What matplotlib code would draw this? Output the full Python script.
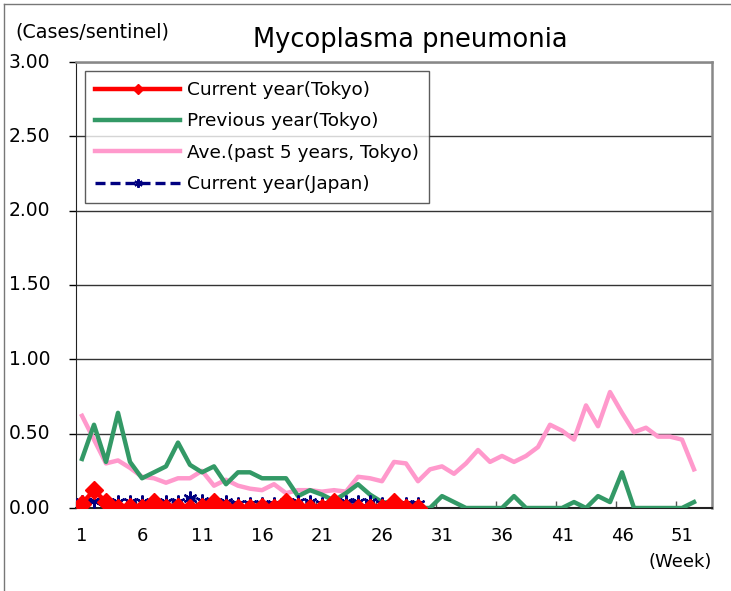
import matplotlib
matplotlib.use("Agg")
import matplotlib.pyplot as plt
from matplotlib.lines import Line2D
from matplotlib.transforms import blended_transform_factory
import numpy as np

plt.rcParams['font.family'] = ['DejaVu Sans']

weeks_all = list(range(1, 53))
tick_weeks = [1, 6, 11, 16, 21, 26, 31, 36, 41, 46, 51]

current_tokyo = [0.03, 0.12, 0.04, 0.00, 0.01, 0.00, 0.04, 0.00, 0.01, 0.00,
                 0.01, 0.04, 0.00, 0.00, 0.00, 0.01, 0.00, 0.04, 0.01, 0.00,
                 0.00, 0.04, 0.00, 0.00, 0.00, 0.00, 0.04, 0.00, 0.00]
previous_tokyo = [0.33, 0.56, 0.31, 0.64, 0.31, 0.20, 0.24, 0.28, 0.44, 0.29,
                  0.24, 0.28, 0.16, 0.24, 0.24, 0.20, 0.20, 0.20, 0.08, 0.12,
                  0.09, 0.05, 0.10, 0.16, 0.09, 0.04, 0.03, 0.02, 0.00, 0.00,
                  0.08, 0.04, 0.00, 0.00, 0.00, 0.00, 0.08, 0.00, 0.00, 0.00,
                  0.00, 0.04, 0.00, 0.08, 0.04, 0.24, 0.00, 0.00, 0.00, 0.00,
                  0.00, 0.04]
ave_5y_tokyo = [0.62, 0.46, 0.30, 0.32, 0.27, 0.21, 0.20, 0.17, 0.20, 0.20,
                0.25, 0.15, 0.19, 0.15, 0.13, 0.12, 0.16, 0.10, 0.12, 0.12,
                0.11, 0.12, 0.11, 0.21, 0.20, 0.18, 0.31, 0.30, 0.18, 0.26,
                0.28, 0.23, 0.30, 0.39, 0.31, 0.35, 0.31, 0.35, 0.41, 0.56,
                0.52, 0.46, 0.69, 0.55, 0.78, 0.64, 0.51, 0.54, 0.48, 0.48,
                0.46, 0.26]
current_japan = [0.04, 0.05, 0.04, 0.04, 0.04, 0.04, 0.03, 0.04, 0.04, 0.07,
                 0.05, 0.04, 0.04, 0.03, 0.03, 0.03, 0.03, 0.04, 0.04, 0.04,
                 0.03, 0.03, 0.04, 0.04, 0.04, 0.03, 0.03, 0.03, 0.03]

W, H = 731, 591
fig = plt.figure(figsize=(W / 100, H / 100), dpi=100)
ax = fig.add_axes([76 / W, 1 - 508 / H, (712 - 76) / W, (508 - 62) / H])

ax.plot(weeks_all, ave_5y_tokyo, color='#ff99cc', lw=3.2, label='Ave.(past 5 years, Tokyo)', zorder=2)
ax.plot(weeks_all, previous_tokyo, color='#339966', lw=3.2, label='Previous year(Tokyo)', zorder=3)
wk_cur = weeks_all[:len(current_japan)]
ax.plot(wk_cur, current_japan, color='#000080', lw=2.4, ls=(0, (3, 1.5)), marker=(6, 2, 0),
        ms=10, mew=1.6, label='Current year(Japan)', zorder=4)
ax.plot(weeks_all[:len(current_tokyo)], current_tokyo, color='#ff0000', lw=3.2, marker='D',
        ms=9, label='Current year(Tokyo)', zorder=5)

ax.set_xlim(0.5, 53.5)
ax.set_ylim(0, 3.0)
yt = np.arange(0, 3.01, 0.5)
ax.set_yticks(yt)
ax.set_yticklabels([])
ax.yaxis.grid(True, color='#333333', lw=1)
ax.set_axisbelow(True)
ax.tick_params(axis='y', direction='out', length=5, width=1, colors='black')
tr = blended_transform_factory(fig.transFigure, ax.transData)
for v in yt:
    ax.text(9 / W, v, f'{v:.2f}', ha='left', va='center', fontsize=13.5,
            transform=tr, clip_on=False)

ax.set_xticks([w - 0.5 for w in range(1, 54, 5)])
ax.set_xticklabels([])
ax.tick_params(axis='x', direction='in', length=5, width=1, color='#555555')
for w in tick_weeks:
    ax.text(w, -0.19, str(w), ha='center', va='center', fontsize=13,
            transform=ax.transData, clip_on=False)
ax.text(1.0, -(562 - 508) / 446, '(Week)', ha='right', va='center', fontsize=13,
        transform=ax.transAxes)

for s in ['top', 'right']:
    ax.spines[s].set_color('#888888')
    ax.spines[s].set_linewidth(1.8)
ax.spines['left'].set_color('#222222')
ax.spines['bottom'].set_color('#222222')
ax.spines['bottom'].set_linewidth(1.5)

handles, labels = ax.get_legend_handles_labels()
order = [3, 1, 0, 2]
leg = ax.legend([handles[i] for i in order], [labels[i] for i in order],
                loc='upper left', bbox_to_anchor=(9 / 636, 1 - 9 / 446),
                fontsize=13.3, frameon=True, fancybox=False, edgecolor='#333333',
                handlelength=4.6, handletextpad=0.35, labelspacing=0.72,
                borderpad=0.55, markerscale=0.6, borderaxespad=0)
leg.get_frame().set_linewidth(1)

fig.text(15 / W, 1 - 32 / H, '(Cases/sentinel)', fontsize=13.8, va='center', ha='left')
fig.text(410 / W, 1 - 40 / H, 'Mycoplasma pneumonia', fontsize=18.5, va='center', ha='center')

fig.add_artist(Line2D([3.5 / W, 3.5 / W], [0, 1 - 3.5 / H], transform=fig.transFigure,
                      color='#777777', lw=1))
fig.add_artist(Line2D([3.5 / W, 1], [1 - 3.5 / H, 1 - 3.5 / H], transform=fig.transFigure,
                      color='#777777', lw=1))

fig.savefig('out.png', dpi=100)
